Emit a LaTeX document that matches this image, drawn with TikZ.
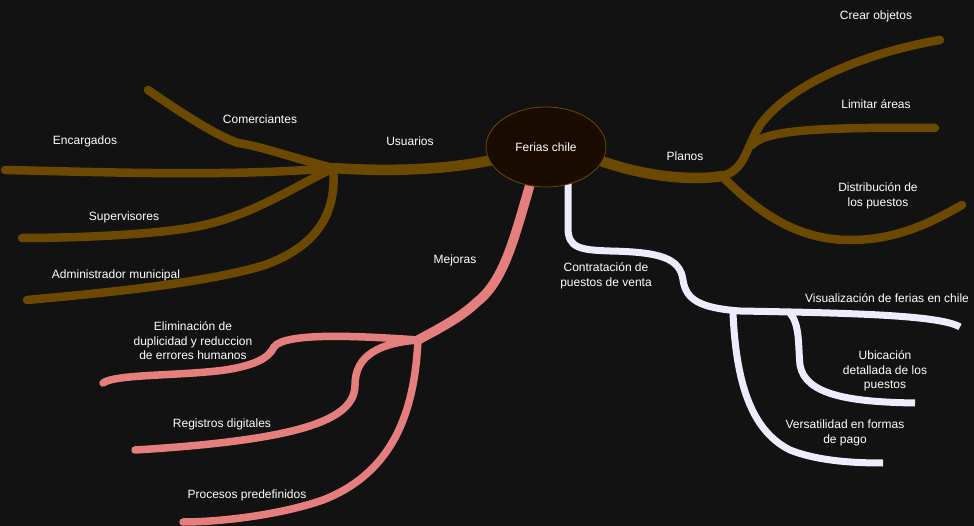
\documentclass[tikz,border=0pt]{standalone}
\usepackage{fontspec}
\setmainfont{Liberation Sans}
\usepackage{tikz}
\usetikzlibrary{shapes.geometric}
\definecolor{night}{RGB}{18,18,18}
\definecolor{root fill}{RGB}{26,12,0}
\definecolor{mud brown}{RGB}{107,73,0}
\definecolor{coral pink}{RGB}{229,127,125}
\definecolor{pale lavender}{RGB}{236,236,252}
\tikzset{
	mainbranch/.style = {line width = 10.5pt, line cap = round},
	leafbranch/.style = {line width = 8.5pt, line cap = round},
	lbl/.style = {text = white, font = \fontsize{12}{14.5}\selectfont, align = center, inner sep = 0pt}
}

\begin{document}
\begin{tikzpicture}[x = 1pt, y = -1pt]
		\useasboundingbox (0, 0) rectangle (974, 526);
		\fill[night] (0, 0) rectangle (974, 526);
		% hubs
		\coordinate (usuIn) at (505, 157);
		\coordinate (usu) at (333, 168);
		\coordinate (plaIn) at (590, 157);
		\coordinate (pla) at (722, 176);
		\coordinate (limStart) at (752, 145);
		\coordinate (mejIn) at (532, 178);
		\coordinate (mej) at (418, 340);
		\coordinate (conIn) at (568, 178);
		\coordinate (con) at (740, 311);
		\coordinate (ubiStart) at (790, 313);
		\coordinate (verStart) at (733, 313);
		% usuarios
		\begin{scope}[draw = mud brown]
			\draw[mainbranch] (usuIn) .. controls (455, 170) and (390, 172) .. (usu);
			\draw[leafbranch] (usu) .. controls (230, 177) and (100, 172) .. (5, 170);
			\draw[leafbranch] (usu) .. controls (290, 157) and (260, 146) .. (238, 143)
				.. controls (215, 135) and (180, 112) .. (148, 90);
			\draw[leafbranch] (usu) .. controls (280, 195) and (250, 215) .. (200, 226)
				.. controls (150, 236) and (60, 238) .. (22, 238);
			\draw[leafbranch] (usu) .. controls (337, 210) and (320, 245) .. (265, 265)
				.. controls (200, 285) and (80, 295) .. (27, 300);
		\end{scope}
		% planos
		\begin{scope}[draw = mud brown]
			\draw[mainbranch] (plaIn) .. controls (650, 180) and (700, 180) .. (pla);
			\draw[leafbranch] (pla) .. controls (745, 170) and (745, 150) .. (760, 125)
				.. controls (795, 78) and (880, 50) .. (940, 40);
			\draw[leafbranch] (limStart) .. controls (765, 130) and (820, 127) .. (935, 128);
			\draw[leafbranch] (pla) .. controls (760, 215) and (800, 240) .. (850, 240)
				.. controls (900, 240) and (935, 220) .. (962, 205);
		\end{scope}
		% mejoras
		\begin{scope}[draw = coral pink]
			\draw[mainbranch, line width = 9.5pt] (mejIn) .. controls (515, 235) and (505, 280) .. (477, 302)
				.. controls (460, 318) and (440, 328) .. (mej);
			\draw[leafbranch, line width = 7.5pt] (mej) .. controls (360, 336) and (285, 332) .. (274, 347)
				.. controls (268, 360) and (250, 366) .. (225, 370)
				.. controls (180, 376) and (115, 374) .. (103, 383);
			\draw[leafbranch, line width = 7.5pt] (mej) .. controls (380, 343) and (355, 355) .. (355, 385)
				.. controls (355, 420) and (300, 440) .. (135, 450);
			\draw[leafbranch, line width = 7.5pt] (mej) .. controls (415, 400) and (400, 470) .. (323, 500)
				.. controls (280, 515) and (220, 522) .. (183, 522);
		\end{scope}
		% contratacion
		\begin{scope}[draw = pale lavender, line width = 7pt]
			\draw[line cap = butt] (conIn) -- (568, 228) .. controls (568, 248) and (580, 250) .. (610, 251)
				.. controls (660, 252) and (680, 258) .. (683, 280)
				.. controls (686, 300) and (700, 308) .. (con);
			\draw[line cap = butt] (con) .. controls (850, 313) and (940, 315) .. (960, 327);
			\draw[line cap = butt] (ubiStart) .. controls (800, 325) and (798, 345) .. (800, 365)
				.. controls (805, 395) and (850, 402) .. (915, 403);
			\draw[line cap = butt] (verStart) .. controls (736, 380) and (750, 430) .. (790, 450)
				.. controls (820, 462) and (860, 463) .. (883, 463);
		\end{scope}
		% centre
		\node[ellipse, draw = mud brown, fill = root fill, line width = 0.8pt,
			minimum width = 120pt, minimum height = 80pt, lbl] (root) at (546, 147) {Ferias chile};
		% labels
		\node[lbl] (usuLabel) at (410, 141) {Usuarios};
		\node[lbl] (comLabel) at (260, 119) {Comerciantes};
		\node[lbl] (encLabel) at (85, 141) {Encargados};
		\node[lbl] (supLabel) at (124, 217) {Supervisores};
		\node[lbl] (admLabel) at (116, 275) {Administrador municipal};
		\node[lbl] (plaLabel) at (685, 156) {Planos};
		\node[lbl] (creLabel) at (876, 16) {Crear objetos};
		\node[lbl] (limLabel) at (876, 104) {Limitar áreas};
		\node[lbl] (disLabel) at (878, 196) {Distribución de\\los puestos};
		\node[lbl] (mejLabel) at (455, 260) {Mejoras};
		\node[lbl] (eliLabel) at (193, 341) {Eliminación de\\duplicidad y reduccion\\de errores humanos};
		\node[lbl] (regLabel) at (222, 424) {Registros digitales};
		\node[lbl] (proLabel) at (247, 495) {Procesos predefinidos};
		\node[lbl] (conLabel) at (606, 276) {Contratación de\\puestos de venta};
		\node[lbl] (visLabel) at (887, 298) {Visualización de ferias en chile};
		\node[lbl] (ubiLabel) at (885, 371) {Ubicación\\detallada de los\\puestos};
		\node[lbl] (verLabel) at (845, 433) {Versatilidad en formas\\de pago};
	\end{tikzpicture}
\end{document}
